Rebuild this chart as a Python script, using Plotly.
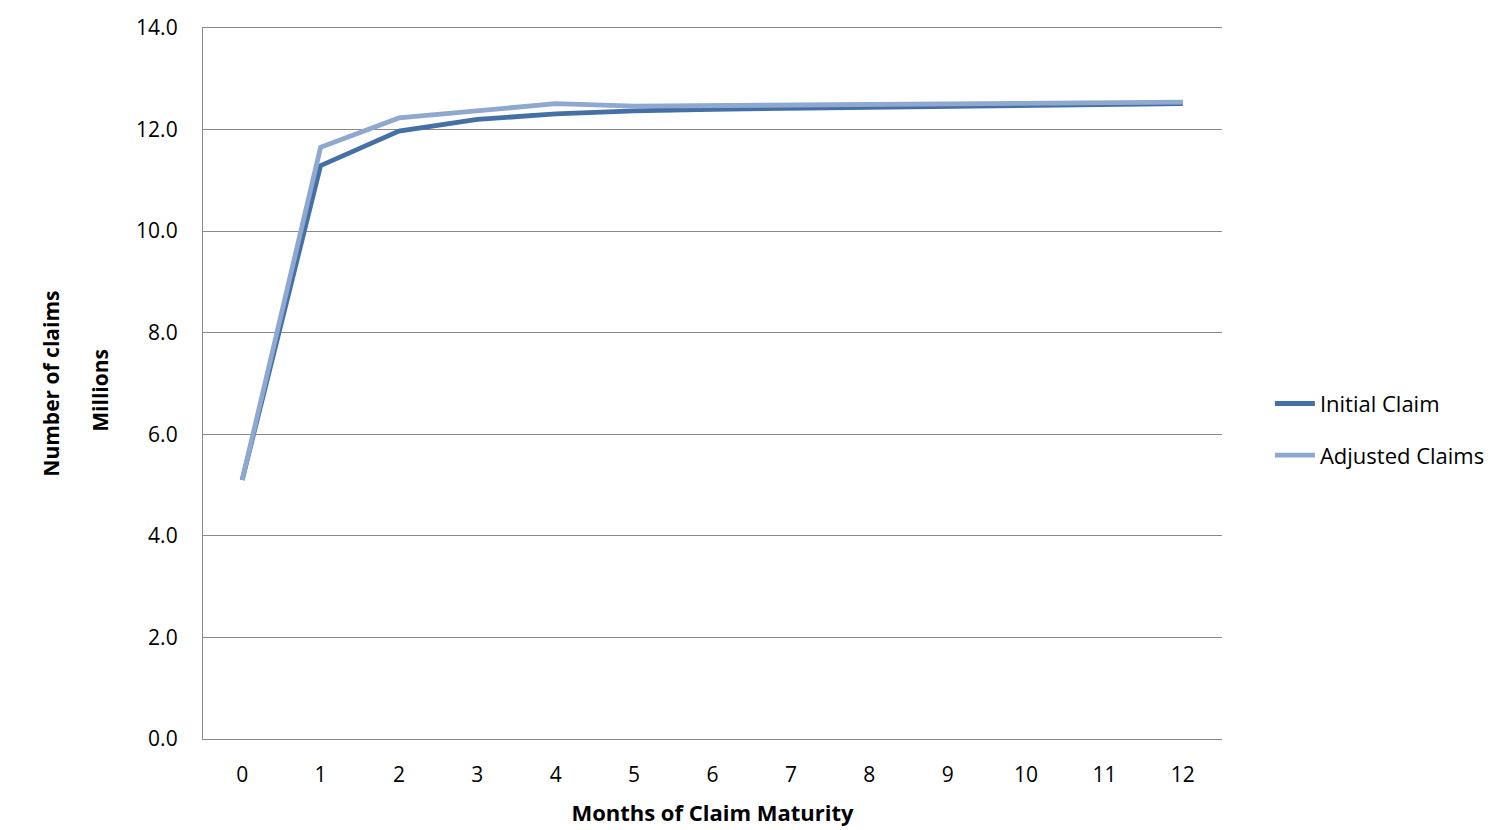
import plotly.graph_objects as go

months = list(range(13))
initial_claim = [5.10, 11.29, 11.97, 12.20, 12.31, 12.37, 12.40, 12.42, 12.44, 12.46, 12.47, 12.49, 12.51]
adjusted_claims = [5.10, 11.65, 12.23, 12.37, 12.51, 12.46, 12.47, 12.49, 12.50, 12.51, 12.52, 12.53, 12.54]
y_ticks = [0, 2, 4, 6, 8, 10, 12, 14]

FONT = "Open Sans"
FS = 21
GRID = "#8A8A8A"

fig = go.Figure()
fig.add_trace(go.Scatter(x=months, y=initial_claim, mode="lines", name="Initial Claim",
                         legendgroup="a",
                         line=dict(color="#4470A6", width=4.8)))
fig.add_trace(go.Scatter(x=months, y=adjusted_claims, mode="lines", name="Adjusted Claims",
                         legendgroup="b",
                         line=dict(color="#8EA8CF", width=4.8)))

fig.update_layout(
    width=1488, height=830,
    margin=dict(l=203, r=266, t=28, b=91, autoexpand=False),
    paper_bgcolor="white", plot_bgcolor="white",
    font=dict(family=FONT, size=FS, color="black"),
    showlegend=True,
    legend=dict(x=1.047, y=0.435, xanchor="left", yanchor="middle",
                font=dict(family=FONT, size=22), tracegroupgap=20,
                itemwidth=40, bgcolor="rgba(0,0,0,0)"),
    xaxis=dict(range=[-0.5, 12.5], tickmode="array", tickvals=months,
               ticktext=[str(m) for m in months], showgrid=False,
               showline=True, mirror=True, linecolor=GRID, linewidth=1.3,
               zeroline=False, ticks="outside", ticklen=17, tickcolor="rgba(0,0,0,0)",
               title=dict(text="<b>Months of Claim Maturity</b>", standoff=18,
                          font=dict(family=FONT, size=22))),
    yaxis=dict(range=[0, 14], tickvals=y_ticks, tickformat=".1f",
               showgrid=True, gridcolor=GRID, gridwidth=1.3,
               showline=True, linecolor=GRID, linewidth=1.3,
               zeroline=False, ticks="outside", ticklen=6, tickcolor="rgba(0,0,0,0)",
               ticklabelstandoff=14),
)

fig.add_annotation(text="<b>Number of claims</b>", textangle=-90, xref="paper", yref="paper",
                   x=-0.150, y=0.50, xanchor="center", yanchor="middle", showarrow=False,
                   font=dict(family=FONT, size=FS))
fig.add_annotation(text="<b>Millions</b>", textangle=-90, xref="paper", yref="paper",
                   x=-0.101, y=0.49, xanchor="center", yanchor="middle", showarrow=False,
                   font=dict(family=FONT, size=FS))

fig.write_html("out.html", config={"displayModeBar": False},
               post_script="document.body.style.margin='0';")
